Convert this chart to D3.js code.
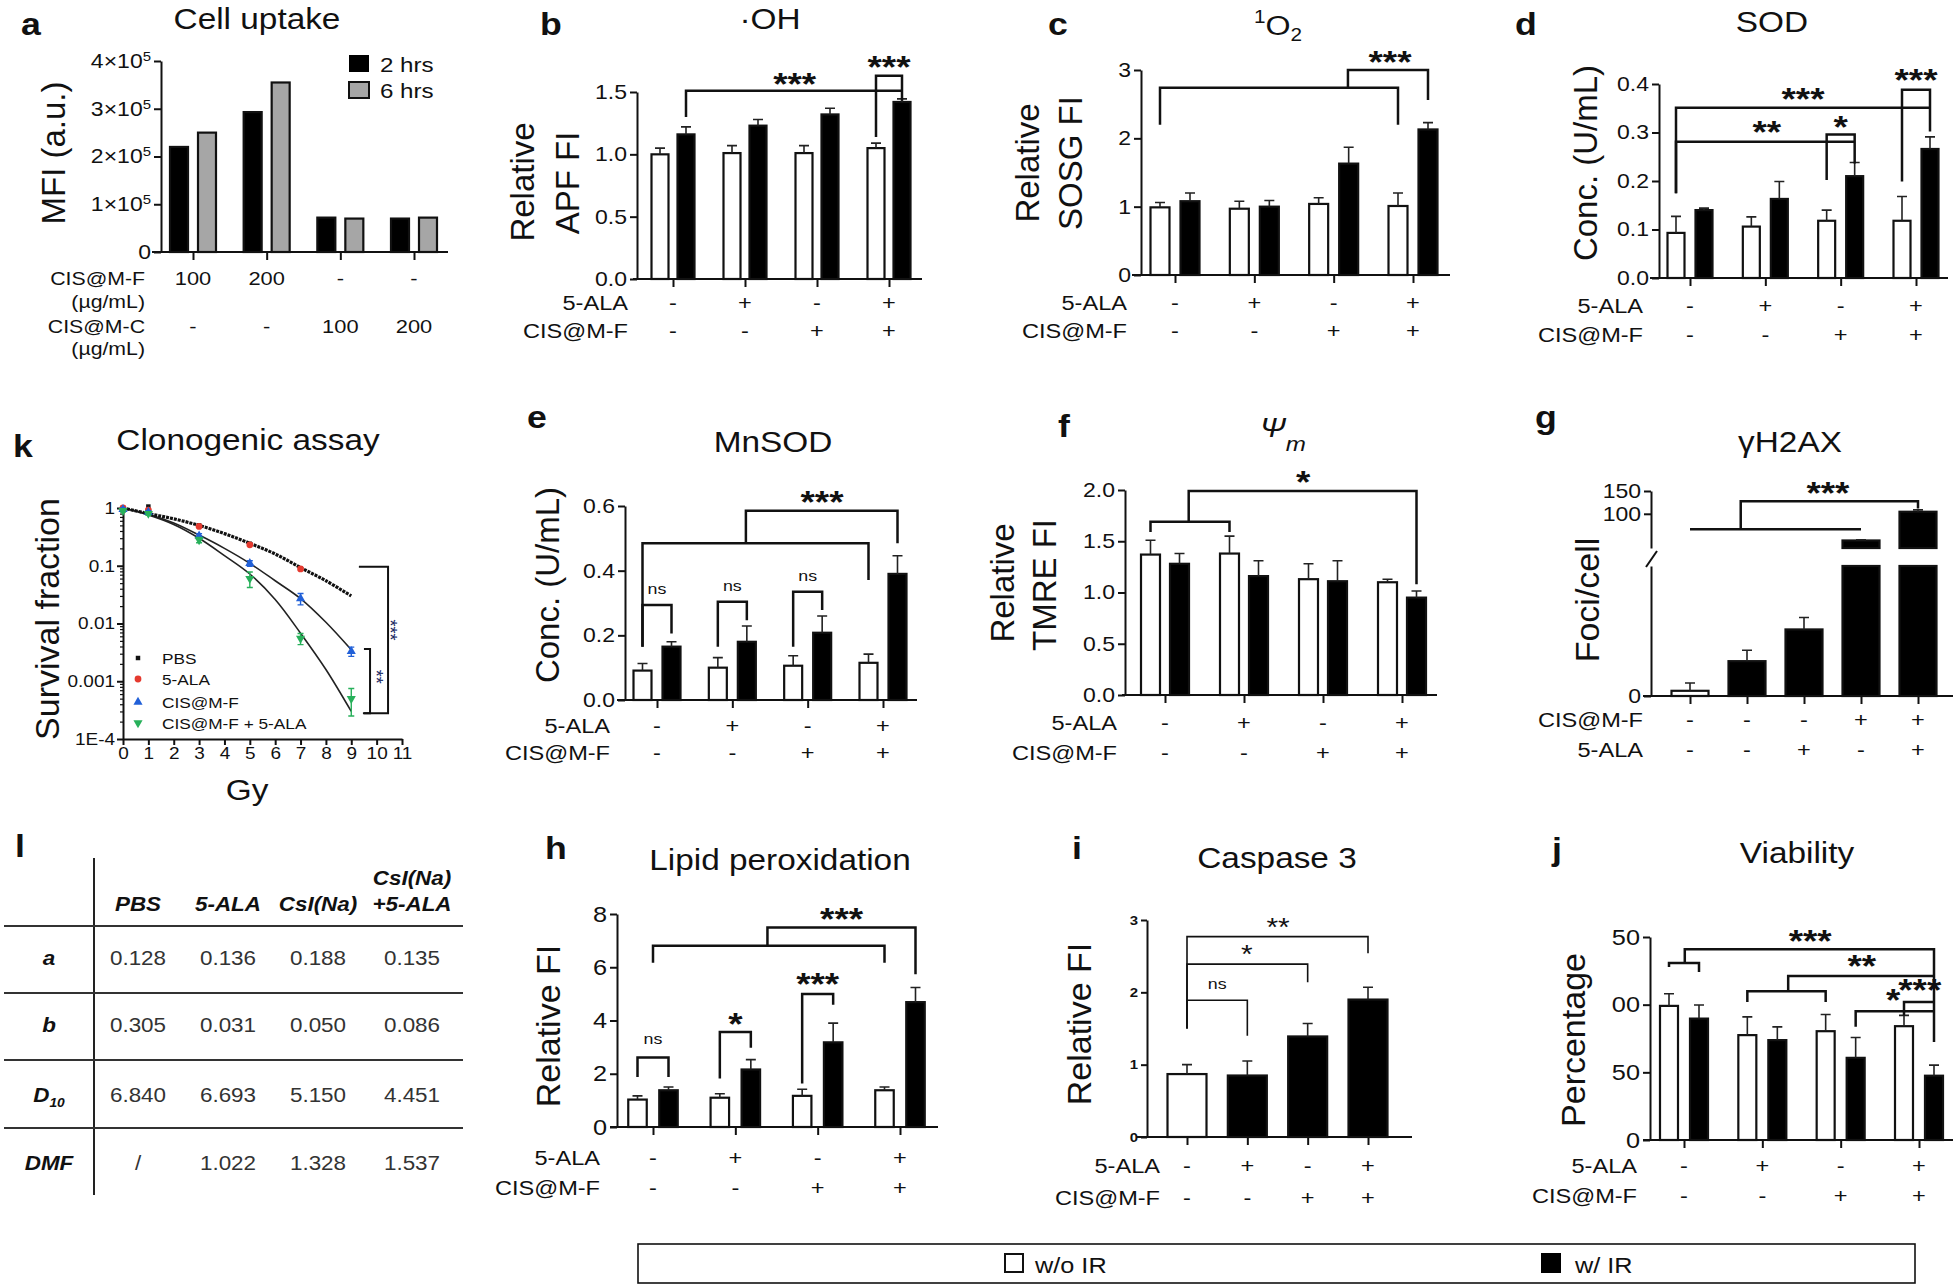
<!DOCTYPE html>
<html>
<head>
<meta charset="utf-8">
<script src="https://cdn.jsdelivr.net/npm/d3@7/dist/d3.min.js"></script>
<style>
  body { margin: 0; background: #fff; }
  text { font-family: "Liberation Sans", Arial, sans-serif; fill: #111; }
</style>
</head>
<body>
<script>
// ---------------- data ----------------
var signALA = ["-", "+", "-", "+"];
var signCIS = ["-", "-", "+", "+"];

// a: cell uptake, MFI in units of 10^5
var aDoseF = ["100", "200", "-", "-"];
var aDoseC = ["-", "-", "100", "200"];
var a2h = [2.20, 2.93, 0.72, 0.70];
var a6h = [2.50, 3.55, 0.70, 0.72];
var aTicks = [0, 1, 2, 3, 4];

// b: .OH, relative APF FI
var bNoIR = [1.00, 1.01, 1.01, 1.05];
var bNoIRErr = [0.05, 0.06, 0.06, 0.04];
var bIR = [1.16, 1.23, 1.32, 1.42];
var bIRErr = [0.06, 0.05, 0.05, 0.025];
var bTicks = [0, 0.5, 1.0, 1.5];

// c: 1O2, relative SOSG FI
var cNoIR = [0.99, 0.97, 1.04, 1.01];
var cNoIRErr = [0.07, 0.11, 0.09, 0.19];
var cIR = [1.08, 1.00, 1.63, 2.13];
var cIRErr = [0.12, 0.09, 0.24, 0.10];
var cTicks = [0, 1, 2, 3];

// d: SOD, U/mL
var dNoIR = [0.093, 0.106, 0.118, 0.118];
var dNoIRErr = [0.034, 0.020, 0.022, 0.050];
var dIR = [0.140, 0.163, 0.210, 0.266];
var dIRErr = [0.004, 0.036, 0.028, 0.025];
var dTicks = [0, 0.1, 0.2, 0.3, 0.4];

// e: MnSOD, U/mL
var eNoIR = [0.091, 0.100, 0.106, 0.115];
var eNoIRErr = [0.022, 0.031, 0.031, 0.027];
var eIR = [0.165, 0.180, 0.208, 0.390];
var eIRErr = [0.015, 0.049, 0.052, 0.056];
var eTicks = [0, 0.2, 0.4, 0.6];

// f: mitochondrial potential, relative TMRE FI
var fNoIR = [1.37, 1.38, 1.13, 1.10];
var fNoIRErr = [0.14, 0.17, 0.15, 0.03];
var fIR = [1.28, 1.16, 1.11, 0.95];
var fIRErr = [0.10, 0.15, 0.20, 0.065];
var fTicks = [0, 0.5, 1.0, 1.5, 2.0];

// g: gH2AX foci/cell (broken axis)
var gCIS = ["-", "-", "-", "+", "+"];
var gALA = ["-", "-", "+", "-", "+"];
var gIR = [false, true, true, true, true];
var gFoci = [1.0, 6.7, 12.8, 41.5, 104.5];
var gFociErr = [1.5, 2.1, 2.3, 1.5, 4.0];

// h: lipid peroxidation, relative FI
var hNoIR = [1.03, 1.10, 1.17, 1.38];
var hNoIRErr = [0.14, 0.15, 0.25, 0.12];
var hIR = [1.38, 2.16, 3.18, 4.69];
var hIRErr = [0.12, 0.37, 0.72, 0.55];
var hTicks = [0, 2, 4, 6, 8];

// i: caspase 3, relative FI
var iIR = [false, true, true, true];
var iVal = [0.87, 0.85, 1.39, 1.90];
var iErr = [0.13, 0.20, 0.18, 0.17];
var iTicks = [0, 1, 2, 3];

// j: viability, percentage
var jNoIR = [99.1, 77.5, 80.4, 84.1];
var jNoIRErr = [9.0, 13.5, 12.3, 8.0];
var jIR = [89.7, 73.8, 60.7, 47.5];
var jIRErr = [10.0, 9.8, 15.0, 7.8];
var jTicks = [0, 50, 100, 150];
var jTickLabels = ["0", "50", "00", "50"];

// k: clonogenic survival
var kDose = [0, 1, 3, 5, 7, 9];
var kPBS = [1.0, 1.06, 0.50, 0.24, 0.09];
var kALA = [1.0, 0.92, 0.48, 0.23, 0.088];
var kCIS = [0.95, 0.85, 0.33, 0.11, 0.027, 0.0033];
var kCISErr = [0.05, 0.05, 0.03, 0.012, 0.006, 0.0006];
var kCA = [0.90, 0.80, 0.28, 0.06, 0.0055, 0.0005];
var kCAErr = [0.05, 0.05, 0.03, 0.018, 0.0012, 0.00025];
var kFitDose = [0, 1, 2, 3, 4, 5, 6, 7, 8, 9];
var kFitPBS = [1, 0.80, 0.65, 0.50, 0.36, 0.245, 0.16, 0.093, 0.055, 0.03];
var kFitCIS = [1, 0.78, 0.55, 0.34, 0.20, 0.11, 0.055, 0.027, 0.0105, 0.0035];
var kFitCA = [1, 0.76, 0.52, 0.30, 0.15, 0.072, 0.026, 0.0068, 0.0016, 0.0003];
var kNames = ["PBS", "5-ALA", "CIS@M-F", "CIS@M-F + 5-ALA"];

// l: LQ fit table
var lCols = ["PBS", "5-ALA", "CsI(Na)", "CsI(Na)|+5-ALA"];
var lRows = ["a", "b", "D", "DMF"];
var lA = ["0.128", "0.136", "0.188", "0.135"];
var lB = ["0.305", "0.031", "0.050", "0.086"];
var lD10 = ["6.840", "6.693", "5.150", "4.451"];
var lDMF = ["/", "1.022", "1.328", "1.537"];

// significance brackets: a/b = [group, side], side -1 w/o IR, +1 w/ IR, 0 centre
var bSig = [
  { a: [0, 1], b: [3, 1], y: 1.51, y1: 1.30, y2: 1.51, t: "***", lx: 1.69, ly: 1.62 },
  { a: [3, -1], b: [3, 1], y: 1.63, y1: 1.14, y2: 1.43, t: "***", lx: 3, ly: 1.756 }
];
var cSig = [
  { a: [0, -1], b: [3, -1], y: 2.74, y1: 2.2, y2: 2.2 },
  { a: [2.18, 0], b: [3, 1], y: 3.0, y1: 2.74, y2: 2.56, t: "***", lx: 2.71, ly: 3.22 }
];
var dSig = [
  { a: [0, -1], b: [3, 1], y: 0.351, y1: 0.175, y2: 0.351, t: "***", lx: 1.5, ly: 0.384 },
  { a: [3, -1], b: [3, 1], y: 0.388, y1: 0.199, y2: 0.302, t: "***", lx: 3, ly: 0.422 },
  { a: [0, -1], b: [2, 1], y: 0.281, y1: 0.175, y2: 0.281, t: "**", lx: 1.02, ly: 0.315 },
  { a: [2, -1], b: [2, 1], y: 0.296, y1: 0.202, y2: 0.236, t: "*", lx: 2, ly: 0.326 }
];
var eSig = [
  { a: [0, -1], b: [0, 1], y: 0.294, y1: 0.165, y2: 0.206, t: "ns", lx: 0, ly: 0.34 },
  { a: [1, -1], b: [1, 1], y: 0.304, y1: 0.165, y2: 0.247, t: "ns", lx: 1, ly: 0.35 },
  { a: [2, -1], b: [2, 1], y: 0.335, y1: 0.165, y2: 0.278, t: "ns", lx: 2, ly: 0.381 },
  { a: [0, -1], b: [3, -1], y: 0.485, y1: 0.165, y2: 0.371 },
  { a: [1.18, 0], b: [3, 1], y: 0.585, y1: 0.485, y2: 0.485, t: "***", lx: 2.19, ly: 0.634 }
];
var fSig = [
  { a: [0, -1], b: [1, -1], y: 1.69, y1: 1.59, y2: 1.59 },
  { a: [0.30, 0], b: [3, 1], y: 1.99, y1: 1.69, y2: 1.08, t: "*", lx: 1.75, ly: 2.15 }
];
var gSig = [
  { a: [0, 0], b: [3, 0], y: 66, y1: 66, y2: 66 },
  { a: [0.89, 0], b: [4, 0], y: 127.6, y1: 66, y2: 111.7, t: "***", lx: 2.42, ly: 161 }
];
var hSig = [
  { a: [0, -1], b: [0, 1], y: 2.61, y1: 1.88, y2: 1.88, t: "ns", lx: 0, ly: 3.26 },
  { a: [1, -1], b: [1, 1], y: 3.57, y1: 1.82, y2: 2.98, t: "*", lx: 1, ly: 4.14 },
  { a: [2, -1], b: [2, 1], y: 5.0, y1: 1.63, y2: 4.59, t: "***", lx: 2, ly: 5.64 },
  { a: [0, 0], b: [3, -1], y: 6.81, y1: 6.17, y2: 6.17 },
  { a: [1.39, 0], b: [3, 1], y: 7.49, y1: 6.81, y2: 5.74, t: "***", lx: 2.29, ly: 8.09 }
];
var iSig = [
  { a: [0, 0], b: [1, 0], y: 1.89, y1: 1.50, y2: 1.40, t: "ns", lx: 0.5, ly: 2.10 },
  { a: [0, 0], b: [2, 0], y: 2.39, y1: 1.50, y2: 2.14, t: "*", lx: 0.99, ly: 2.61 },
  { a: [0, 0], b: [3, 0], y: 2.77, y1: 1.50, y2: 2.54, t: "**", lx: 1.51, ly: 2.98 }
];
var jSig = [
  { a: [0, -1], b: [0, 1], y: 130.8, y1: 127.9, y2: 124.2 },
  { a: [0.01, 0], b: [3, 1], y: 140.9, y1: 130.8, y2: 72.5, t: "***", lx: 1.61, ly: 152.4 },
  { a: [1, -1], b: [2, -1], y: 109.9, y1: 102, y2: 102 },
  { a: [1.33, 0], b: [3, 1], y: 121.2, y1: 109.9, y2: 121.2, t: "**", lx: 2.27, ly: 134 },
  { a: [2, 1], b: [3, 1], y: 95.2, y1: 83.6, y2: 95.2, t: "*", lx: 2.67, ly: 108.2 },
  { a: [3, -1], b: [3, 1], y: 102, y1: 92.2, y2: 102, t: "***", lx: 3.01, ly: 115.6 }
];
var kSig = [
  { x: 10.45, top: 0.096, bot: 0.00028, xt: 9.3, xb: 9.46, t: "***", lx: 10.69, ly: 0.0077 },
  { x: 9.74, top: 0.0036, bot: 0.00028, xt: 9.5, xb: 9.5, t: "**", lx: 10.13, ly: 0.0012 }
];

// ---------------- drawing ----------------
var S = 1.15; // horizontal stretch of the original lettering
var svg = d3.select("body").append("svg").attr("width", 1960).attr("height", 1288);

function ht(parent, x, y, s, fs, o) {
  o = o || {};
  var t = parent.append("text")
    .attr("transform", "translate(" + x + "," + y + ") scale(" + S + ",1)")
    .attr("font-size", fs)
    .attr("text-anchor", o.a || "middle");
  if (o.b) t.attr("font-weight", "bold");
  if (o.i) t.attr("font-style", "italic");
  if (o.c) t.style("fill", o.c);
  t.text(s);
  return t;
}

function vt(parent, cx, cy, s, fs) {
  return parent.append("text")
    .attr("transform", "translate(" + cx + "," + cy + ") rotate(-90)")
    .attr("text-anchor", "middle").attr("dy", "0.36em")
    .attr("font-size", fs).text(s);
}

function styleAxis(sel, fs, bold) {
  sel.attr("font-family", null).attr("font-size", null);
  sel.selectAll(".domain, .tick line").attr("stroke", "#111").attr("stroke-width", 2);
  sel.selectAll(".tick text").each(function () {
    var t = d3.select(this);
    var x = +t.attr("x") || 0, y = +t.attr("y") || 0;
    t.attr("x", null).attr("y", null)
      .attr("transform", "translate(" + x + "," + y + ") scale(" + S + ",1)")
      .attr("font-size", fs)
      .attr("font-weight", bold ? "bold" : null);
  });
}

function drawSig(g, list, gx, y, off, sw, afs) {
  list.forEach(function (b) {
    var x1 = gx(b.a[0]) + b.a[1] * off, x2 = gx(b.b[0]) + b.b[1] * off;
    g.append("path")
      .attr("d", "M" + x1 + "," + y(b.y1) + "V" + y(b.y) + "H" + x2 + "V" + y(b.y2))
      .attr("fill", "none").attr("stroke", "#111").attr("stroke-width", sw);
    if (b.t) {
      var ns = b.t === "ns";
      var fs = ns ? 15.5 : afs;
      ht(g, gx(b.lx), y(b.ly) + (ns ? 0.27 : 0.56) * fs, b.t, fs, { b: !ns && afs > 30 });
    }
  });
}

function rowLabels(g, gx, x, ys, rows, fs) {
  rows.forEach(function (r, k) {
    ht(g, x, ys[k], r[0], fs, { a: "end" });
    r[1].forEach(function (v, i) { ht(g, gx(i), ys[k], v, fs); });
  });
}

function errBars(g, vals, errs, xf, y) {
  g.append("g").selectAll("path").data(vals).enter().append("path")
    .attr("d", function (d, i) {
      var x = xf(i), t = y(d), u = y(d + errs[i]);
      return "M" + x + "," + t + "V" + u + "M" + (x - 5) + "," + u + "H" + (x + 5);
    })
    .attr("fill", "none").attr("stroke", "#222").attr("stroke-width", 1.6);
}

function panel(p) {
  var g = svg.append("g");
  var y = d3.scaleLinear().domain(p.dom).range([p.y0, p.yTop]);
  var gx = d3.scaleLinear().domain([0, p.n - 1]).range([p.g0, p.g1]);
  var ya = d3.axisLeft(y).tickValues(p.ticks).tickSize(p.tl || 7).tickSizeOuter(0).tickPadding(3)
    .tickFormat(p.fmt || d3.format("d"));
  var yg = g.append("g").attr("transform", "translate(" + p.ax + ",0)").call(ya);
  styleAxis(yg, p.tfs, p.tbold);
  g.append("line").attr("x1", p.xl).attr("x2", p.xr).attr("y1", p.y0).attr("y2", p.y0)
    .attr("stroke", "#111").attr("stroke-width", 2);
  var xg = g.append("g").attr("transform", "translate(0," + p.y0 + ")")
    .call(d3.axisBottom(gx).tickValues(d3.range(p.n)).tickFormat("").tickSize(8));
  xg.select(".domain").remove();
  xg.selectAll("line").attr("stroke", "#111").attr("stroke-width", 2);

  p.series.forEach(function (s) {
    var xf = function (i) { return gx(i) + s.off; };
    g.append("g").selectAll("rect").data(s.v).enter().append("rect")
      .attr("x", function (d, i) { return xf(i) - p.bw / 2; })
      .attr("y", function (d) { return y(d); })
      .attr("width", p.bw)
      .attr("height", function (d) { return p.y0 - y(d); })
      .attr("fill", function (d, i) { return s.fills ? s.fills[i] : s.fill; })
      .attr("stroke", "#111").attr("stroke-width", 2.2);
    if (s.e) errBars(g, s.v, s.e, xf, y);
  });
  if (p.sig) drawSig(g, p.sig, gx, y, p.off, p.sw || 2.5, p.afs || 32);
  if (p.rows) rowLabels(g, gx, p.rowX, p.rowY, p.rows, p.rfs || 20.5);
  return { g: g, yAxis: yg, y: y, gx: gx };
}

var fmt1 = d3.format(".1f");
var ir = function (b) { return b ? "#000" : "#fff"; };

// ---- a ----
var pa = panel({
  ax: 161, y0: 252, yTop: 61, dom: [0, 4], ticks: aTicks, tfs: 20,
  fmt: function (d) { return d === 0 ? "0" : d + "×10"; },
  xl: 152, xr: 448, n: 4, g0: 193, g1: 414, off: 14, bw: 18,
  series: [{ v: a2h, off: -14, fill: "#000" }, { v: a6h, off: 14, fill: "#a6a6a6" }]
});
pa.yAxis.selectAll(".tick text").filter(function (d) { return d > 0; })
  .append("tspan").attr("dy", "-0.55em").attr("font-size", 13).text("5");
[["CIS@M-F", 285], ["(µg/mL)", 308], ["CIS@M-C", 333], ["(µg/mL)", 355]].forEach(function (r) {
  ht(svg, 145, r[1], r[0], 18.5, { a: "end" });
});
aDoseF.forEach(function (v, i) { ht(svg, pa.gx(i), 285, v, 19); });
aDoseC.forEach(function (v, i) { ht(svg, pa.gx(i), 333, v, 19); });
svg.append("rect").attr("x", 349).attr("y", 55).attr("width", 20).attr("height", 17).attr("fill", "#000");
svg.append("rect").attr("x", 349).attr("y", 82).attr("width", 20).attr("height", 16)
  .attr("fill", "#a6a6a6").attr("stroke", "#111").attr("stroke-width", 2);
ht(svg, 380, 72, "2 hrs", 21, { a: "start" });
ht(svg, 380, 98, "6 hrs", 21, { a: "start" });
vt(svg, 53, 153, "MFI (a.u.)", 33);

// ---- b ----
panel({
  ax: 637, y0: 279, yTop: 92, dom: [0, 1.5], ticks: bTicks, tfs: 20, fmt: fmt1,
  xl: 633, xr: 922, n: 4, g0: 673, g1: 889, off: 13, bw: 17,
  series: [{ v: bNoIR, e: bNoIRErr, off: -13, fill: "#fff" }, { v: bIR, e: bIRErr, off: 13, fill: "#000" }],
  sig: bSig, rowX: 628, rowY: [310, 338], rows: [["5-ALA", signALA], ["CIS@M-F", signCIS]]
});
vt(svg, 522, 182, "Relative", 33);
vt(svg, 567, 183, "APF FI", 33);

// ---- c ----
panel({
  ax: 1141, y0: 275, yTop: 70, dom: [0, 3], ticks: cTicks, tfs: 20,
  xl: 1132, xr: 1450, n: 4, g0: 1175, g1: 1413, off: 15, bw: 19,
  series: [{ v: cNoIR, e: cNoIRErr, off: -15, fill: "#fff" }, { v: cIR, e: cIRErr, off: 15, fill: "#000" }],
  sig: cSig, rowX: 1127, rowY: [310, 338], rows: [["5-ALA", signALA], ["CIS@M-F", signCIS]]
});
vt(svg, 1027, 163, "Relative", 33);
vt(svg, 1070, 163, "SOSG FI", 33);

// ---- d ----
panel({
  ax: 1659, y0: 278, yTop: 84, dom: [0, 0.4], ticks: dTicks, tfs: 20, fmt: fmt1,
  xl: 1650, xr: 1948, n: 4, g0: 1690, g1: 1916, off: 14, bw: 17,
  series: [{ v: dNoIR, e: dNoIRErr, off: -14, fill: "#fff" }, { v: dIR, e: dIRErr, off: 14, fill: "#000" }],
  sig: dSig, rowX: 1643, rowY: [313, 342], rows: [["5-ALA", signALA], ["CIS@M-F", signCIS]]
});
vt(svg, 1585, 163, "Conc. (U/mL)", 33);

// ---- e ----
panel({
  ax: 625, y0: 700, yTop: 506, dom: [0, 0.6], ticks: eTicks, tfs: 20, fmt: fmt1,
  xl: 617, xr: 917, n: 4, g0: 657, g1: 883, off: 14.5, bw: 18,
  series: [{ v: eNoIR, e: eNoIRErr, off: -14.5, fill: "#fff" }, { v: eIR, e: eIRErr, off: 14.5, fill: "#000" }],
  sig: eSig, rowX: 610, rowY: [733, 760], rows: [["5-ALA", signALA], ["CIS@M-F", signCIS]]
});
vt(svg, 547, 585, "Conc. (U/mL)", 33);

// ---- f ----
panel({
  ax: 1125, y0: 695, yTop: 490, dom: [0, 2], ticks: fTicks, tfs: 20, fmt: fmt1,
  xl: 1122, xr: 1437, n: 4, g0: 1165, g1: 1402, off: 14.5, bw: 19,
  series: [{ v: fNoIR, e: fNoIRErr, off: -14.5, fill: "#fff" }, { v: fIR, e: fIRErr, off: 14.5, fill: "#000" }],
  sig: fSig, rowX: 1117, rowY: [730, 760], rows: [["5-ALA", signALA], ["CIS@M-F", signCIS]]
});
vt(svg, 1002, 583, "Relative", 33);
vt(svg, 1044, 585, "TMRE FI", 33);

// ---- g (broken axis) ----
(function () {
  var g = svg.append("g");
  var low = d3.scaleLinear().domain([0, 25]).range([696, 566]);
  var up = d3.scaleLinear().domain([25, 150]).range([548, 491]);
  var yG = function (v) { return v <= 25 ? low(v) : up(v); };
  var gx = d3.scaleLinear().domain([0, 4]).range([1690, 1918]);
  var bw = 37;
  styleAxis(g.append("g").attr("transform", "translate(1651,0)")
    .call(d3.axisLeft(low).tickValues([0]).tickSize(7).tickSizeOuter(0).tickPadding(3)), 20);
  styleAxis(g.append("g").attr("transform", "translate(1651,0)")
    .call(d3.axisLeft(up).tickValues([100, 150]).tickSize(7).tickSizeOuter(0).tickPadding(3)), 20);
  g.append("path").attr("d", "M1646,567L1657,551").attr("stroke", "#111").attr("stroke-width", 2);
  g.append("line").attr("x1", 1643).attr("x2", 1953).attr("y1", 696).attr("y2", 696)
    .attr("stroke", "#111").attr("stroke-width", 2);
  var xg = g.append("g").attr("transform", "translate(0,696)")
    .call(d3.axisBottom(gx).tickValues(d3.range(5)).tickFormat("").tickSize(8));
  xg.select(".domain").remove();
  xg.selectAll("line").attr("stroke", "#111").attr("stroke-width", 2);
  g.append("g").selectAll("rect").data(gFoci).enter().append("rect")
    .attr("x", function (d, i) { return gx(i) - bw / 2; })
    .attr("y", function (d) { return low(Math.min(d, 25)); })
    .attr("width", bw)
    .attr("height", function (d) { return 696 - low(Math.min(d, 25)); })
    .attr("fill", function (d, i) { return ir(gIR[i]); })
    .attr("stroke", "#111").attr("stroke-width", 2.2);
  // upper part of the bars above the axis break
  g.append("g").selectAll("rect").data(gFoci).enter()
    .filter(function (d) { return d > 25; }).append("rect")
    .attr("x", function (d, i) { return gx(gFoci.indexOf(d)) - bw / 2; })
    .attr("y", function (d) { return up(d); })
    .attr("width", bw)
    .attr("height", function (d) { return up(25) - up(d); })
    .attr("fill", "#000").attr("stroke", "#111").attr("stroke-width", 2.2);
  errBars(g, gFoci, gFociErr, gx, yG);
  drawSig(g, gSig, gx, yG, 0, 2.5, 32);
  rowLabels(g, gx, 1643, [727, 757], [["CIS@M-F", gCIS], ["5-ALA", gALA]], 20.5);
  vt(svg, 1587, 600, "Foci/cell", 34);
})();

// ---- h ----
panel({
  ax: 617, y0: 1127, yTop: 914, dom: [0, 8], ticks: hTicks, tfs: 22,
  xl: 610, xr: 938, n: 4, g0: 653, g1: 900, off: 15.5, bw: 18.5,
  series: [{ v: hNoIR, e: hNoIRErr, off: -15.5, fill: "#fff" }, { v: hIR, e: hIRErr, off: 15.5, fill: "#000" }],
  sig: hSig, rowX: 600, rowY: [1165, 1195], rows: [["5-ALA", signALA], ["CIS@M-F", signCIS]]
});
vt(svg, 548, 1026, "Relative FI", 34);

// ---- i ----
panel({
  ax: 1147, y0: 1137, yTop: 920, dom: [0, 3], ticks: iTicks, tfs: 13, tbold: true, tl: 6,
  xl: 1137, xr: 1412, n: 4, g0: 1187, g1: 1368, off: 0, bw: 39,
  series: [{ v: iVal, e: iErr, off: 0, fills: iIR.map(ir) }],
  sig: iSig, sw: 1.6, afs: 26,
  rowX: 1160, rowY: [1173, 1205], rows: [["5-ALA", signALA], ["CIS@M-F", signCIS]]
});
vt(svg, 1079, 1024, "Relative FI", 34);

// ---- j ----
panel({
  ax: 1650, y0: 1140, yTop: 937, dom: [0, 150], ticks: jTicks, tfs: 22,
  fmt: function (d, i) { return jTickLabels[i]; },
  xl: 1643, xr: 1953, n: 4, g0: 1684, g1: 1919, off: 15, bw: 18,
  series: [{ v: jNoIR, e: jNoIRErr, off: -15, fill: "#fff" }, { v: jIR, e: jIRErr, off: 15, fill: "#000" }],
  sig: jSig, rowX: 1637, rowY: [1173, 1203], rows: [["5-ALA", signALA], ["CIS@M-F", signCIS]]
});
vt(svg, 1573, 1040, "Percentage", 34);

// ---- k ----
(function () {
  var g = svg.append("g");
  var x = d3.scaleLinear().domain([0, 11]).range([123, 402]);
  var y = d3.scaleLog().domain([1e-4, 1]).range([739, 508]);
  var minor = [];
  [1e-4, 1e-3, 1e-2, 1e-1].forEach(function (b) { for (var m = 2; m < 10; m++) minor.push(b * m); });
  var mg = g.append("g").attr("transform", "translate(123,0)")
    .call(d3.axisLeft(y).tickValues(minor).tickFormat("").tickSize(3).tickSizeOuter(0));
  mg.selectAll(".tick line").attr("stroke", "#111").attr("stroke-width", 1.2);
  var yl = ["1E-4", "0.001", "0.01", "0.1", "1"];
  styleAxis(g.append("g").attr("transform", "translate(123,0)")
    .call(d3.axisLeft(y).tickValues([1e-4, 1e-3, 1e-2, 1e-1, 1])
      .tickFormat(function (d, i) { return yl[i]; }).tickSize(6).tickSizeOuter(0).tickPadding(2)), 16.5);
  styleAxis(g.append("g").attr("transform", "translate(0,739)")
    .call(d3.axisBottom(x).tickValues(d3.range(12)).tickSize(6).tickSizeOuter(0).tickPadding(2)), 16.5);

  var line = d3.line().x(function (d, i) { return x(kFitDose[i]); }).y(function (d) { return y(d); })
    .curve(d3.curveCatmullRom);
  g.append("path").attr("d", line(kFitCA)).attr("fill", "none").attr("stroke", "#222").attr("stroke-width", 1.6);
  g.append("path").attr("d", line(kFitCIS)).attr("fill", "none").attr("stroke", "#222").attr("stroke-width", 1.6);
  g.append("path").attr("d", line(kFitPBS)).attr("fill", "none").attr("stroke", "#111")
    .attr("stroke-width", 3.2).attr("stroke-dasharray", "3,1");

  var colors = ["#111", "#e53a2f", "#2160d8", "#27b05a"];
  var shapes = [d3.symbolSquare, d3.symbolCircle, d3.symbolTriangle, d3.symbolTriangle];
  var rot = [0, 0, 0, 180];
  var sets = [[kPBS, null], [kALA, null], [kCIS, kCISErr], [kCA, kCAErr]];
  sets.forEach(function (s, k) {
    var vals = s[0], errs = s[1];
    if (errs) {
      g.append("g").selectAll("path").data(vals).enter().append("path")
        .attr("d", function (d, i) {
          var xx = x(kDose[i]), lo = y(Math.max(d - errs[i], 1e-4)), hi = y(d + errs[i]);
          return "M" + xx + "," + lo + "V" + hi + "M" + (xx - 3) + "," + lo + "H" + (xx + 3) +
            "M" + (xx - 3) + "," + hi + "H" + (xx + 3);
        })
        .attr("stroke", colors[k]).attr("stroke-width", 1.4).attr("fill", "none");
    }
    g.append("g").selectAll("path").data(vals).enter().append("path")
      .attr("d", d3.symbol().type(shapes[k]).size(k === 0 ? 20 : 36))
      .attr("transform", function (d, i) {
        return "translate(" + x(kDose[i]) + "," + y(d) + ") rotate(" + rot[k] + ")";
      })
      .attr("fill", colors[k]);
  });

  kNames.forEach(function (nm, k) {
    var yy = [658, 679, 702, 723][k];
    g.append("path").attr("d", d3.symbol().type(shapes[k]).size(k === 0 ? 20 : 36))
      .attr("transform", "translate(138," + yy + ") rotate(" + rot[k] + ")").attr("fill", colors[k]);
    ht(g, 162, yy + 5.5, nm, 15, { a: "start" });
  });

  kSig.forEach(function (b) {
    g.append("path")
      .attr("d", "M" + x(b.xt) + "," + y(b.top) + "H" + x(b.x) + "V" + y(b.bot) + "H" + x(b.xb))
      .attr("fill", "none").attr("stroke", "#111").attr("stroke-width", 2);
    g.append("text").attr("transform", "translate(" + x(b.lx) + "," + y(b.ly) + ") rotate(90)")
      .attr("text-anchor", "middle").attr("dy", "0.56em").attr("font-size", 18)
      .style("fill", "#1e2d66").text(b.t);
  });
  ht(g, 247, 800, "Gy", 29);
  vt(svg, 47, 619, "Survival fraction", 34);
})();

// ---- l table ----
(function () {
  var g = svg.append("g");
  var colX = [138, 228, 318, 412];
  var rowY = [965, 1032, 1102, 1170];
  g.append("line").attr("x1", 94).attr("x2", 94).attr("y1", 858).attr("y2", 1195)
    .attr("stroke", "#222").attr("stroke-width", 2);
  [926, 993, 1060, 1128].forEach(function (yy) {
    g.append("line").attr("x1", 4).attr("x2", 463).attr("y1", yy).attr("y2", yy)
      .attr("stroke", "#333").attr("stroke-width", 2.2);
  });
  lCols.forEach(function (c, i) {
    var parts = c.split("|");
    parts.forEach(function (p, k) {
      ht(g, colX[i], 911 - (parts.length - 1 - k) * 26, p, 19.5, { b: true, i: true });
    });
  });
  lRows.forEach(function (r, k) {
    var t = ht(g, 49, rowY[k], r, 19.5, { b: true, i: true });
    if (r === "D") t.append("tspan").attr("dy", 5).attr("font-size", 12).text("10");
  });
  [lA, lB, lD10, lDMF].forEach(function (row, k) {
    row.forEach(function (v, i) { ht(g, colX[i], rowY[k], v, 19.5, { c: "#333" }); });
  });
})();

// ---- titles and panel letters ----
[["Cell uptake", 257, 29], ["MnSOD", 773, 452], ["SOD", 1772, 32], ["Clonogenic assay", 248, 450],
 ["γH2AX", 1790, 452], ["Lipid peroxidation", 780, 870], ["Caspase 3", 1277, 868], ["Viability", 1797, 863],
 ["·OH", 770, 29]].forEach(function (t) { ht(svg, t[1], t[2], t[0], 29); });
(function () {
  var t = ht(svg, 1278, 35, "", 28);
  t.append("tspan").attr("font-size", 18).attr("dy", -12).text("1");
  t.append("tspan").attr("dy", 12).text("O");
  t.append("tspan").attr("font-size", 18).attr("dy", 6).text("2");
  var p = ht(svg, 1283, 437, "", 27, { i: true });
  p.append("tspan").text("Ψ");
  p.append("tspan").attr("font-size", 21).attr("dy", 14).text("m");
})();
[["a", 21, 35], ["b", 540, 35], ["c", 1048, 35], ["d", 1515, 35], ["k", 13, 457], ["e", 527, 428],
 ["f", 1058, 437], ["g", 1535, 428], ["l", 15, 857], ["h", 545, 859], ["i", 1072, 859], ["j", 1552, 860]]
  .forEach(function (t) { ht(svg, t[1], t[2], t[0], 31, { a: "start", b: true }); });

// ---- IR legend ----
svg.append("rect").attr("x", 638).attr("y", 1244).attr("width", 1277).attr("height", 39)
  .attr("fill", "none").attr("stroke", "#111").attr("stroke-width", 1.6);
svg.append("rect").attr("x", 1005).attr("y", 1254).attr("width", 18).attr("height", 18)
  .attr("fill", "#fff").attr("stroke", "#111").attr("stroke-width", 2);
ht(svg, 1035, 1273, "w/o IR", 22, { a: "start" });
svg.append("rect").attr("x", 1541).attr("y", 1253).attr("width", 20).attr("height", 20).attr("fill", "#000");
ht(svg, 1575, 1273, "w/ IR", 22, { a: "start" });
</script>
</body>
</html>
